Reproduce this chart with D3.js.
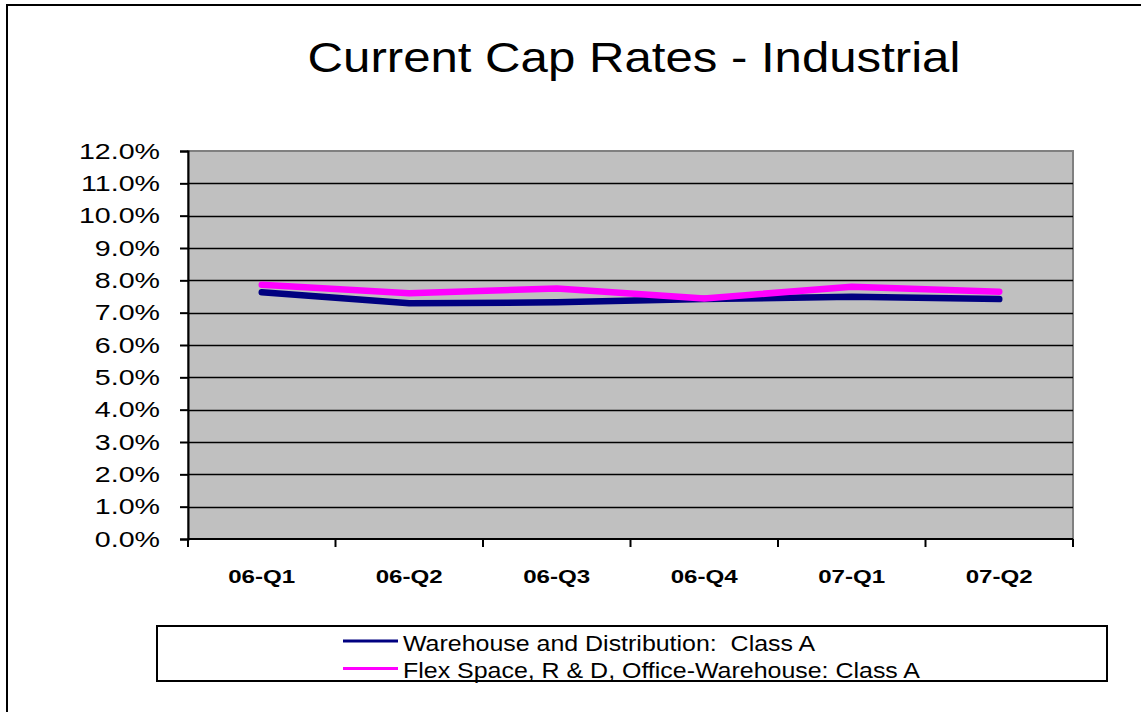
<!DOCTYPE html>
<html>
<head>
<meta charset="utf-8">
<script src="https://cdn.jsdelivr.net/npm/d3@7"></script>
<style>
  body { margin: 0; background: #fff; }
  svg { display: block; font-family: "Liberation Sans", Arial, sans-serif; }
</style>
</head>
<body>
<svg id="chart"></svg>
<script>
const quarters = ["06-Q1", "06-Q2", "06-Q3", "06-Q4", "07-Q1", "07-Q2"];
const warehouse = [7.63, 7.29, 7.32, 7.42, 7.49, 7.42];
const flex = [7.86, 7.60, 7.75, 7.44, 7.80, 7.65];
const seriesNames = ["Warehouse and Distribution:  Class A", "Flex Space, R & D, Office-Warehouse: Class A"];
const seriesColors = ["#000080", "#ff00ff"];
const yTicks = d3.range(0, 13);

const width = 1141, height = 712;
const plot = { left: 188, top: 151, right: 1073, bottom: 539 };

// the original text is a bit wider than Arial, stretch it horizontally
function stretch(sel, k) {
    sel.each(function() {
        const w = this.getComputedTextLength();
        d3.select(this)
            .attr('textLength', w * k)
            .attr('lengthAdjust', 'spacingAndGlyphs');
    });
}

const svg = d3.select('#chart')
    .attr('width', width)
    .attr('height', height);

// outer chart border
svg.append('rect')
    .attr('x', 7).attr('y', 5)
    .attr('width', width + 20).attr('height', height + 20)
    .attr('fill', '#fff')
    .attr('stroke', '#000')
    .attr('stroke-width', 2);

svg.append('text')
    .attr('x', 634)
    .attr('y', 72)
    .attr('text-anchor', 'middle')
    .style('font-size', '42px')
    .text('Current Cap Rates - Industrial')
    .call(stretch, 1.17);

const x = d3.scaleBand()
    .domain(quarters)
    .range([plot.left, plot.right]);

const y = d3.scaleLinear()
    .domain([0, 12])
    .range([plot.bottom, plot.top]);

// plot background
svg.append('rect')
    .attr('x', plot.left).attr('y', plot.top)
    .attr('width', plot.right - plot.left)
    .attr('height', plot.bottom - plot.top)
    .attr('fill', '#c0c0c0')
    .attr('stroke', '#808080')
    .attr('stroke-width', 2);

// gridlines
svg.append('g')
    .selectAll('line')
    .data(yTicks.filter(d => d > 0 && d < 12))
    .enter()
    .append('line')
    .attr('x1', plot.left).attr('x2', plot.right)
    .attr('y1', d => Math.round(y(d)) + 0.5)
    .attr('y2', d => Math.round(y(d)) + 0.5)
    .attr('stroke', '#000')
    .attr('stroke-width', 1.5);

// y axis
const yAxis = svg.append('g')
    .attr('transform', `translate(${plot.left},0)`)
    .call(d3.axisLeft(y)
        .tickValues(yTicks)
        .tickSize(8)
        .tickPadding(20)
        .tickFormat(d => d.toFixed(1) + '%'));
yAxis.select('.domain').attr('stroke-width', 2);
yAxis.selectAll('.tick line').attr('stroke-width', 2);
yAxis.selectAll('text')
    .style('font-size', '22px')
    .style('font-family', '"Liberation Sans", Arial, sans-serif')
    .attr('fill', '#000')
    .call(stretch, 1.3);

// x axis (ticks at category boundaries)
const xAxisG = svg.append('g')
    .attr('transform', `translate(0,${plot.bottom})`);
xAxisG.append('line')
    .attr('x1', plot.left).attr('x2', plot.right)
    .attr('y1', 0).attr('y2', 0)
    .attr('stroke', '#000').attr('stroke-width', 2);
const boundaries = quarters.map(q => x(q)).concat([plot.right]);
xAxisG.selectAll('.bt')
    .data(boundaries)
    .enter()
    .append('line')
    .attr('x1', d => d).attr('x2', d => d)
    .attr('y1', 0).attr('y2', 8)
    .attr('stroke', '#000').attr('stroke-width', 2);
xAxisG.selectAll('.lbl')
    .data(quarters)
    .enter()
    .append('text')
    .attr('x', d => x(d) + x.bandwidth() / 2)
    .attr('y', 44)
    .attr('text-anchor', 'middle')
    .style('font-size', '19px')
    .style('font-weight', 'bold')
    .text(d => d)
    .call(stretch, 1.27);

// lines
const line = d3.line()
    .x((d, i) => x(quarters[i]) + x.bandwidth() / 2)
    .y(d => y(d));

[warehouse, flex].forEach((s, i) => {
    svg.append('path')
        .datum(s)
        .attr('d', line)
        .attr('fill', 'none')
        .attr('stroke', seriesColors[i])
        .attr('stroke-width', 6.5)
        .attr('stroke-linecap', 'round')
        .attr('stroke-linejoin', 'round');
});

// legend
const legend = svg.append('g');
legend.append('rect')
    .attr('x', 157).attr('y', 626)
    .attr('width', 950).attr('height', 55)
    .attr('fill', '#fff')
    .attr('stroke', '#000')
    .attr('stroke-width', 2);
seriesNames.forEach((name, i) => {
    const cy = 641 + i * 27.5;
    legend.append('line')
        .attr('x1', 343).attr('x2', 398)
        .attr('y1', cy).attr('y2', cy)
        .attr('stroke', seriesColors[i])
        .attr('stroke-width', 3);
    legend.append('text')
        .attr('x', 403)
        .attr('y', cy + 9.5)
        .style('font-size', '21.5px')
        .style('white-space', 'pre')
        .text(name)
        .call(stretch, 1.16);
});
</script>
</body>
</html>
